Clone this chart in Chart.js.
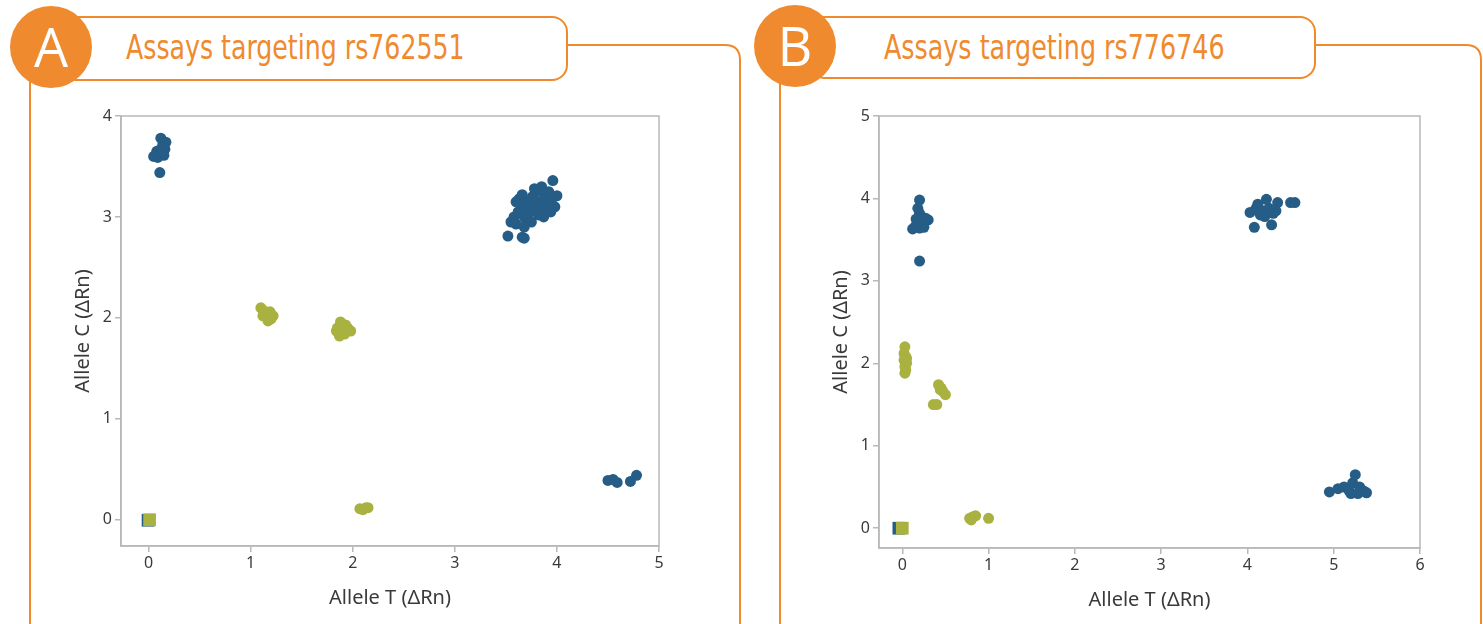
<!DOCTYPE html>
<html>
<head>
<meta charset="utf-8">
<script src="https://cdn.jsdelivr.net/npm/chart.js@4.4.1/dist/chart.umd.min.js"></script>
<style>
  body { margin: 0; background: #fff; width: 1483px; height: 624px; overflow: hidden; position: relative; }
  svg.deco { position: absolute; left: 0; top: 0; }
  .badge { position: absolute; width: 82px; text-align: center; color: #fff; font: 500 54px "Open Sans", sans-serif; line-height: 82px; }
  .title { position: absolute; color: #ef8a2e; font: 34px "Liberation Sans Narrow", "DejaVu Sans Condensed", sans-serif; white-space: nowrap; transform-origin: left center; }
  canvas { position: absolute; }
</style>
</head>
<body>

<svg class="deco" width="1483" height="624">
  <!-- panel A frame -->
  <path d="M30 80 L30 640 M560 45 L725 45 Q740 45 740 60 L740 640" fill="none" stroke="#ef8a2e" stroke-width="2"/>
  <rect x="60" y="17" width="507" height="63" rx="15" fill="#fff" stroke="#ef8a2e" stroke-width="2"/>
  <circle cx="51" cy="47" r="41" fill="#ef8a2e"/>
  <!-- panel B frame -->
  <path d="M780 80 L780 640 M1310 45 L1466 45 Q1481 45 1481 60 L1481 640" fill="none" stroke="#ef8a2e" stroke-width="2"/>
  <rect x="810" y="17" width="505" height="61" rx="15" fill="#fff" stroke="#ef8a2e" stroke-width="2"/>
  <circle cx="795" cy="46" r="41" fill="#ef8a2e"/>
</svg>

<div class="badge" style="left:10px; top:5px;">A</div>
<div class="badge" style="left:754px; top:4px;">B</div>
<div class="title" id="titleA" style="left:126px; top:27px;">Assays targeting rs762551</div>
<div class="title" id="titleB" style="left:884px; top:27px;">Assays targeting rs776746</div>

<canvas id="chartA" width="630" height="512" style="left:70px; top:100px;"></canvas>
<canvas id="chartB" width="632" height="514" style="left:828px; top:100px;"></canvas>

<script>
// ===== Allelic discrimination plots =====

const BLUE = "#255d87";
const GREEN = "#a9b240";

// Panel A - rs762551
const xTicksA = [0, 1, 2, 3, 4, 5];
const yTicksA = [0, 1, 2, 3, 4];
const blueA = [
  [0.11, 3.44], [0.12, 3.78], [0.14, 3.72], [0.16, 3.67], [0.15, 3.61], [0.09, 3.59],
  [0.05, 3.60], [0.08, 3.65], [0.12, 3.67], [0.17, 3.74], [0.13, 3.63],
  [3.96, 3.36], [4.00, 3.21], [3.52, 2.81], [3.66, 2.80], [3.68, 2.79],
  [3.55, 2.95], [3.58, 3.00], [3.60, 2.93], [3.62, 3.05], [3.65, 3.12], [3.63, 3.18],
  [3.66, 3.22], [3.68, 3.00], [3.70, 3.08], [3.72, 3.15], [3.70, 2.97], [3.74, 3.05],
  [3.76, 3.20], [3.78, 3.10], [3.80, 3.25], [3.82, 3.02], [3.83, 3.15], [3.85, 3.30],
  [3.86, 3.08], [3.88, 3.20], [3.90, 3.12], [3.92, 3.25], [3.94, 3.05], [3.95, 3.18],
  [3.75, 2.95], [3.68, 2.90], [3.60, 3.15], [3.87, 3.00], [3.98, 3.10], [3.78, 3.28],
  [4.50, 0.39], [4.55, 0.40], [4.59, 0.37], [4.72, 0.38], [4.78, 0.44]
];
const greenA = [
  [1.10, 2.10], [1.13, 2.07], [1.15, 2.04], [1.18, 2.02], [1.20, 1.99], [1.17, 1.97],
  [1.22, 2.02], [1.12, 2.02], [1.19, 2.06],
  [1.88, 1.96], [1.85, 1.90], [1.90, 1.88], [1.95, 1.90], [1.98, 1.87], [1.92, 1.84],
  [1.87, 1.82], [1.93, 1.93], [1.84, 1.87],
  [2.07, 0.11], [2.10, 0.10], [2.13, 0.12], [2.15, 0.12]
];
const ntcBlueA = [[-0.005, -0.005]];
const ntcGreenA = [[0.01, 0]];

// Panel B - rs776746
const xTicksB = [0, 1, 2, 3, 4, 5, 6];
const yTicksB = [0, 1, 2, 3, 4, 5];
const blueB = [
  [0.20, 3.98], [0.20, 3.24], [0.18, 3.88], [0.20, 3.82], [0.22, 3.78], [0.16, 3.75],
  [0.24, 3.72], [0.30, 3.74], [0.27, 3.76], [0.12, 3.63], [0.15, 3.66], [0.20, 3.64],
  [0.25, 3.65], [0.19, 3.70],
  [4.03, 3.83], [4.10, 3.88], [4.12, 3.93], [4.18, 3.85], [4.22, 3.99], [4.25, 3.88],
  [4.15, 3.80], [4.30, 3.82], [4.35, 3.95], [4.08, 3.65], [4.28, 3.68], [4.50, 3.95],
  [4.55, 3.95], [4.20, 3.78], [4.33, 3.85],
  [4.95, 0.44], [5.05, 0.48], [5.12, 0.50], [5.18, 0.45], [5.22, 0.55], [5.25, 0.65],
  [5.30, 0.50], [5.35, 0.45], [5.38, 0.43], [5.20, 0.42], [5.28, 0.42]
];
const greenB = [
  [0.03, 2.20], [0.02, 2.12], [0.04, 2.08], [0.02, 2.04], [0.05, 2.00], [0.03, 1.96],
  [0.04, 1.92], [0.03, 1.88], [0.05, 2.06],
  [0.42, 1.74], [0.45, 1.70], [0.47, 1.66], [0.50, 1.62], [0.44, 1.68], [0.36, 1.50], [0.40, 1.50],
  [0.78, 0.12], [0.82, 0.14], [0.85, 0.15], [0.80, 0.10], [1.00, 0.12]
];
const ntcBlueB = [[-0.04, 0]];
const ntcGreenB = [[0, 0]];

const toPts = arr => arr.map(p => ({ x: p[0], y: p[1] }));

// gray box round the plot area
const boxPlugin = {
  id: "box",
  beforeDatasetsDraw(chart) {
    const a = chart.chartArea, ctx = chart.ctx;
    ctx.save();
    ctx.strokeStyle = "#b8b8b8";
    ctx.lineWidth = 1.5;
    ctx.strokeRect(a.left, a.top, a.right - a.left, a.bottom - a.top);
    ctx.restore();
  }
};

function makeChart(id, opts) {
  const tickFont = { family: "Noto Sans", size: 16 };
  const titleFont = { family: "Noto Sans", size: 20 };
  return new Chart(document.getElementById(id), {
    type: "scatter",
    data: {
      datasets: [
        { data: toPts(opts.ntcGreen), backgroundColor: GREEN, pointStyle: "rect", pointRadius: 9, borderWidth: 0 },
        { data: toPts(opts.ntcBlue), backgroundColor: BLUE, pointStyle: "rect", pointRadius: 9, borderWidth: 0 },
        { data: toPts(opts.green), backgroundColor: GREEN, pointRadius: 5.5, borderWidth: 0 },
        { data: toPts(opts.blue), backgroundColor: BLUE, pointRadius: 5.5, borderWidth: 0 }
      ]
    },
    options: {
      responsive: false,
      animation: false,
      layout: { padding: { top: 16, right: opts.padRight, left: 0, bottom: 0 } },
      plugins: { legend: { display: false }, tooltip: { enabled: false } },
      scales: {
        x: {
          min: opts.xMin, max: opts.xMax,
          afterBuildTicks: s => { s.ticks = opts.xTicks.map(v => ({ value: v })); },
          afterFit: s => { s.height = 66; },
          grid: { drawOnChartArea: false, tickLength: 6, color: "#b8b8b8", lineWidth: 1.5 },
          border: { color: "#b8b8b8", width: 1.5 },
          ticks: { color: "#3a3a3a", font: tickFont, padding: 2 },
          title: { display: true, text: "Allele T (ΔRn)", color: "#3a3a3a", font: titleFont, padding: { top: 0, bottom: 2 } }
        },
        y: {
          min: opts.yMin, max: opts.yMax,
          afterBuildTicks: s => { s.ticks = opts.yTicks.map(v => ({ value: v })); },
          afterFit: s => { s.width = 51; },
          grid: { drawOnChartArea: false, tickLength: 6, color: "#b8b8b8", lineWidth: 1.5 },
          border: { color: "#b8b8b8", width: 1.5 },
          ticks: { color: "#3a3a3a", font: tickFont, padding: 3 },
          title: { display: true, text: "Allele C (ΔRn)", color: "#3a3a3a", font: titleFont, padding: { top: 1, bottom: 0 } }
        }
      }
    },
    plugins: [boxPlugin]
  });
}

makeChart("chartA", {
  xTicks: xTicksA, yTicks: yTicksA, xMin: -0.27, xMax: 5, yMin: -0.26, yMax: 4,
  blue: blueA, green: greenA, ntcBlue: ntcBlueA, ntcGreen: ntcGreenA, padRight: 41
});
makeChart("chartB", {
  xTicks: xTicksB, yTicks: yTicksB, xMin: -0.27, xMax: 6, yMin: -0.24, yMax: 5,
  blue: blueB, green: greenB, ntcBlue: ntcBlueB, ntcGreen: ntcGreenB, padRight: 40
});

// fit the condensed panel titles to their width
[["titleA", 339], ["titleB", 341]].forEach(([id, w]) => {
  const el = document.getElementById(id);
  el.style.transform = "scaleX(" + (w / el.offsetWidth) + ")";
});
</script>
</body>
</html>
